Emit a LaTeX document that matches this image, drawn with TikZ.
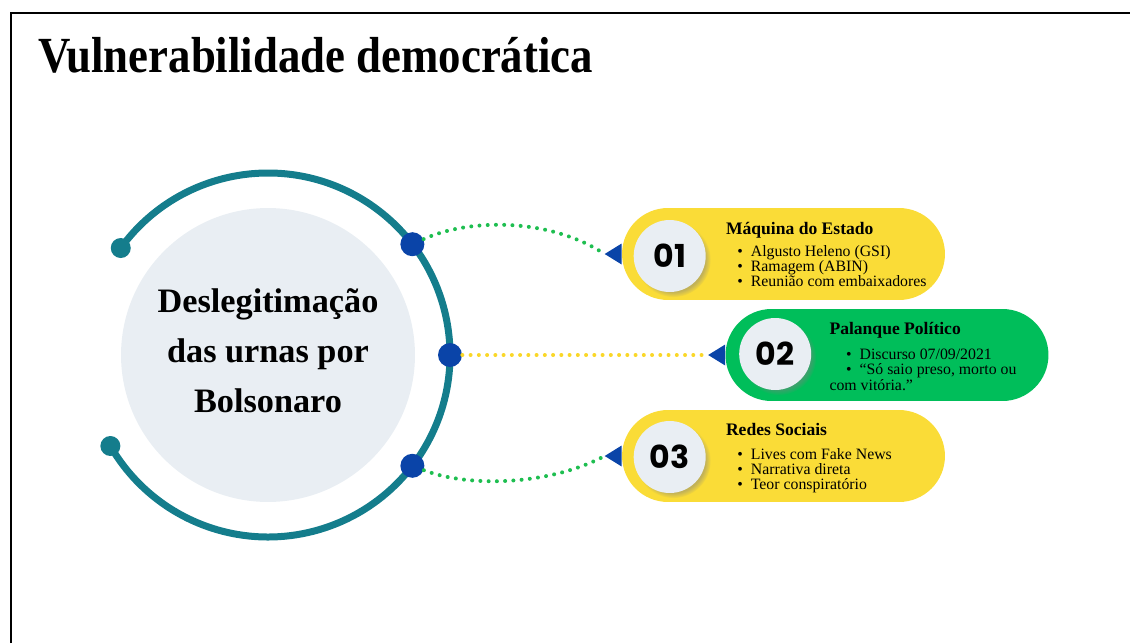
\documentclass[tikz,border=0pt]{standalone}
\usepackage{fontspec}
\setmainfont{Liberation Serif}
\newfontfamily\numfont{Poppins}
\usetikzlibrary{arrows.meta,positioning,calc,shadows}
\definecolor{arcteal}{RGB}{20,125,140}
\definecolor{dotblue}{RGB}{10,68,168}
\definecolor{hubgrey}{RGB}{233,238,243}
\definecolor{pillyellow}{RGB}{250,220,55}
\definecolor{pillgreen}{RGB}{0,190,90}
\definecolor{linkgreen}{RGB}{30,190,80}
\definecolor{linkyellow}{RGB}{250,215,40}
\tikzset{
    pillY/.style={rectangle, rounded corners=0.92cm, fill=pillyellow, minimum width=6.46cm, minimum height=1.84cm},
    pillG/.style={pillY, fill=pillgreen},
    numdot/.style={circle, fill=hubgrey, minimum size=1.44cm, inner sep=0pt, font=\numfont\bfseries\fontsize{18}{18}\selectfont,
        circular drop shadow={shadow xshift=0.07cm, shadow yshift=-0.07cm, shadow scale=1.04, opacity=0.45}},
    hubdot/.style={circle, fill=dotblue, minimum size=0.48cm, inner sep=0pt},
    capdot/.style={circle, fill=arcteal, minimum size=0.4cm, inner sep=0pt},
    pilltext/.style={anchor=north west, inner sep=0pt, align=left, font=\fontsize{9}{8.6}\selectfont},
    link/.style={line width=0.08cm, dash pattern=on 0pt off 0.165cm, line cap=round,
        -{Triangle[reversed, length=0.34cm, width=0.42cm, line width=0pt, color=dotblue]}},
    linkG/.style={link, draw=linkgreen},
    linkY/.style={link, draw=linkyellow}
}
\newcommand{\bul}[1]{\hspace*{#1}\textbullet\hspace{4.5pt}}

\begin{document}
\begin{tikzpicture}[x=0.02cm, y=0.02cm]
\useasboundingbox (0,0) rectangle (1130,-643);

% frame and title
\draw[line width=0.04cm] (11,-643) -- (11,-13) -- (1130,-13);
\node[anchor=base west, inner sep=0pt, font=\bfseries\fontsize{25.5}{25.5}\selectfont] (title) at (38,-72)
  {\scalebox{1}[1.13]{Vulnerabilidade democrática}};

% ----------------------------
% Hub with ring
% ----------------------------
\coordinate (hub) at (268,-355);
\node[circle, fill=hubgrey, minimum size=5.88cm, inner sep=0pt] (center) at (hub) {};
\node[align=center, font=\bfseries\fontsize{19.5}{28.5}\selectfont] (hubtext) at ($(center)+(0,4)$)
  {Deslegitimação\\das urnas por\\Bolsonaro};
\draw[arcteal, line width=0.14cm] ($(hub)+(144:182)$) arc[start angle=144, end angle=-150, radius=182];
\node[capdot] (c1) at ($(hub)+(144:182)$) {};
\node[capdot] (c2) at ($(hub)+(210:182)$) {};
\node[hubdot] (d1) at ($(hub)+(37.5:182)$) {};
\node[hubdot] (d2) at ($(hub)+(0:182)$) {};
\node[hubdot] (d3) at ($(hub)+(-37.5:182)$) {};

% ----------------------------
% Pills
% ----------------------------
\node[pillY] (p1) at (783.5,-254) {};
\node[pillG] (p2) at (887,-355) {};
\node[pillY] (p3) at (783.5,-456) {};

\node[numdot] (n1) at ($(p1.west)+(48,-2)$) {01};
\node[numdot] (n2) at ($(p2.west)+(50,1)$) {02};
\node[numdot] (n3) at ($(p3.west)+(48,-1)$) {03};

\node[pilltext] (t1) at ($(p1.north west)+(104,-14)$)
  {{\fontsize{10}{10}\bfseries Máquina do Estado}\\[4pt]
   \bul{6.5pt}Algusto Heleno (GSI)\\
   \bul{6.5pt}Ramagem (ABIN)\\
   \bul{6.5pt}Reunião com embaixadores};
\node[pilltext] (t2) at ($(p2.north west)+(104,-13)$)
  {{\fontsize{10}{10}\bfseries Palanque Político}\\[6pt]
   \bul{9.5pt}Discurso 07/09/2021\\
   \bul{9.5pt}“Só saio preso, morto ou\\
   com vitória.”};
\node[pilltext] (t3) at ($(p3.north west)+(104,-13)$)
  {{\fontsize{10}{10}\bfseries Redes Sociais}\\[5pt]
   \bul{6.5pt}Lives com Fake News\\
   \bul{6.5pt}Narrativa direta\\
   \bul{6.5pt}Teor conspiratório};

% ----------------------------
% Connectors
% ----------------------------
\draw[linkG] (d1) .. controls (470,-218) and (550,-218) .. ($(p1.west)+(-17,0)$) -- (p1.west);
\draw[linkY] (d2) -- (p2.west);
\draw[linkG] (d3) .. controls (470,-488) and (550,-485) .. ($(p3.west)+(-17,0)$) -- (p3.west);

\end{tikzpicture}
\end{document}
